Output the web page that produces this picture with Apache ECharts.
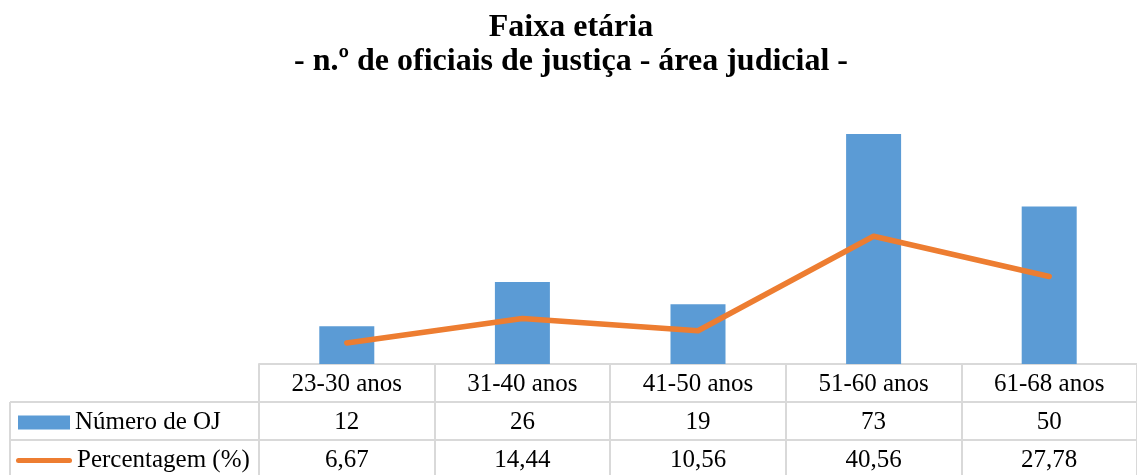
<!DOCTYPE html>
<html>
<head>
<meta charset="utf-8">
<script src="https://cdn.jsdelivr.net/npm/echarts@6/dist/echarts.min.js"></script>
<style>html,body{margin:0;padding:0;background:#fff}#c{width:1137px;height:475px}</style>
</head>
<body>
<div id="c"></div>
<script>
var categories = ['23-30 anos', '31-40 anos', '41-50 anos', '51-60 anos', '61-68 anos'];
var countName = 'Número de OJ';
var pctName = 'Percentagem (%)';
var counts = [12, 26, 19, 73, 50];
var pcts = [6.67, 14.44, 10.56, 40.56, 27.78];
var titleText = 'Faixa etária\n- n.º de oficiais de justiça - área judicial -';

var FONT = '"Liberation Serif", "DejaVu Serif", serif';
var GRID_COLOR = '#d9d9d9';
var ROW_H = 38;

function fmtPct(v) { return v.toFixed(2).replace('.', ','); }

function tableAxis(data, offset, margin) {
  return {
    type: 'category',
    gridIndex: 0,
    position: 'bottom',
    offset: offset,
    data: data,
    boundaryGap: true,
    axisLine: { show: true, lineStyle: { color: GRID_COLOR, width: 2 } },
    axisTick: { show: true, length: ROW_H, alignWithLabel: false, lineStyle: { color: GRID_COLOR, width: 2 } },
    axisLabel: { margin: margin, fontFamily: FONT, fontSize: 25, color: '#000', interval: 0 },
    splitLine: { show: false }
  };
}

var chart = echarts.init(document.getElementById('c'), null, { renderer: 'canvas' });
var gridTop = 364; // px, baseline
chart.setOption({
  animation: false,
  backgroundColor: '#fff',
  title: {
    text: titleText,
    left: 566,
    textAlign: 'center',
    top: 6,
    textStyle: { fontFamily: FONT, fontWeight: 'bold', fontSize: 32, lineHeight: 34, color: '#000' }
  },
  legend: [
    {
      data: [{ name: countName, icon: 'rect' }],
      left: 18, top: 410, padding: 0,
      itemWidth: 52, itemHeight: 14, itemGap: 0,
      textStyle: { fontFamily: FONT, fontSize: 25, color: '#000' },
      selectedMode: false
    },
    {
      data: [{ name: pctName, icon: 'path://M2.5,0 H53.5 A2.5,2.5 0 0 1 53.5,5 H2.5 A2.5,2.5 0 0 1 2.5,0 Z' }],
      left: 16, top: 448, padding: 0,
      itemWidth: 56, itemHeight: 5, itemGap: 0,
      textStyle: { fontFamily: FONT, fontSize: 25, color: '#000' },
      selectedMode: false
    }
  ],
  grid: { left: 259, width: 880, top: 112, bottom: 475 - gridTop, containLabel: false },
  xAxis: [
    tableAxis(categories, 0, 8),
    tableAxis(counts.map(String), ROW_H, 8),
    tableAxis(pcts.map(fmtPct), ROW_H * 2, 8)
  ],
  yAxis: { type: 'value', min: 0, max: 80, show: false },
  graphic: [
    { type: 'line', shape: { x1: 10, y1: gridTop + ROW_H, x2: 259, y2: gridTop + ROW_H }, style: { stroke: GRID_COLOR, lineWidth: 2 } },
    { type: 'line', shape: { x1: 10, y1: gridTop + ROW_H * 2, x2: 259, y2: gridTop + ROW_H * 2 }, style: { stroke: GRID_COLOR, lineWidth: 2 } },
    { type: 'line', shape: { x1: 10, y1: gridTop + ROW_H, x2: 10, y2: 480 }, style: { stroke: GRID_COLOR, lineWidth: 2 } }
  ],
  series: [
    {
      name: countName, type: 'bar', data: counts, xAxisIndex: 0, yAxisIndex: 0,
      barWidth: 55, itemStyle: { color: '#5b9bd5' }
    },
    {
      name: pctName, type: 'line', data: pcts, xAxisIndex: 0, yAxisIndex: 0,
      symbol: 'none', color: '#ed7d31',
      lineStyle: { color: '#ed7d31', width: 5.5, cap: 'round', join: 'round' },
      z: 3
    }
  ]
});
</script>
</body>
</html>
